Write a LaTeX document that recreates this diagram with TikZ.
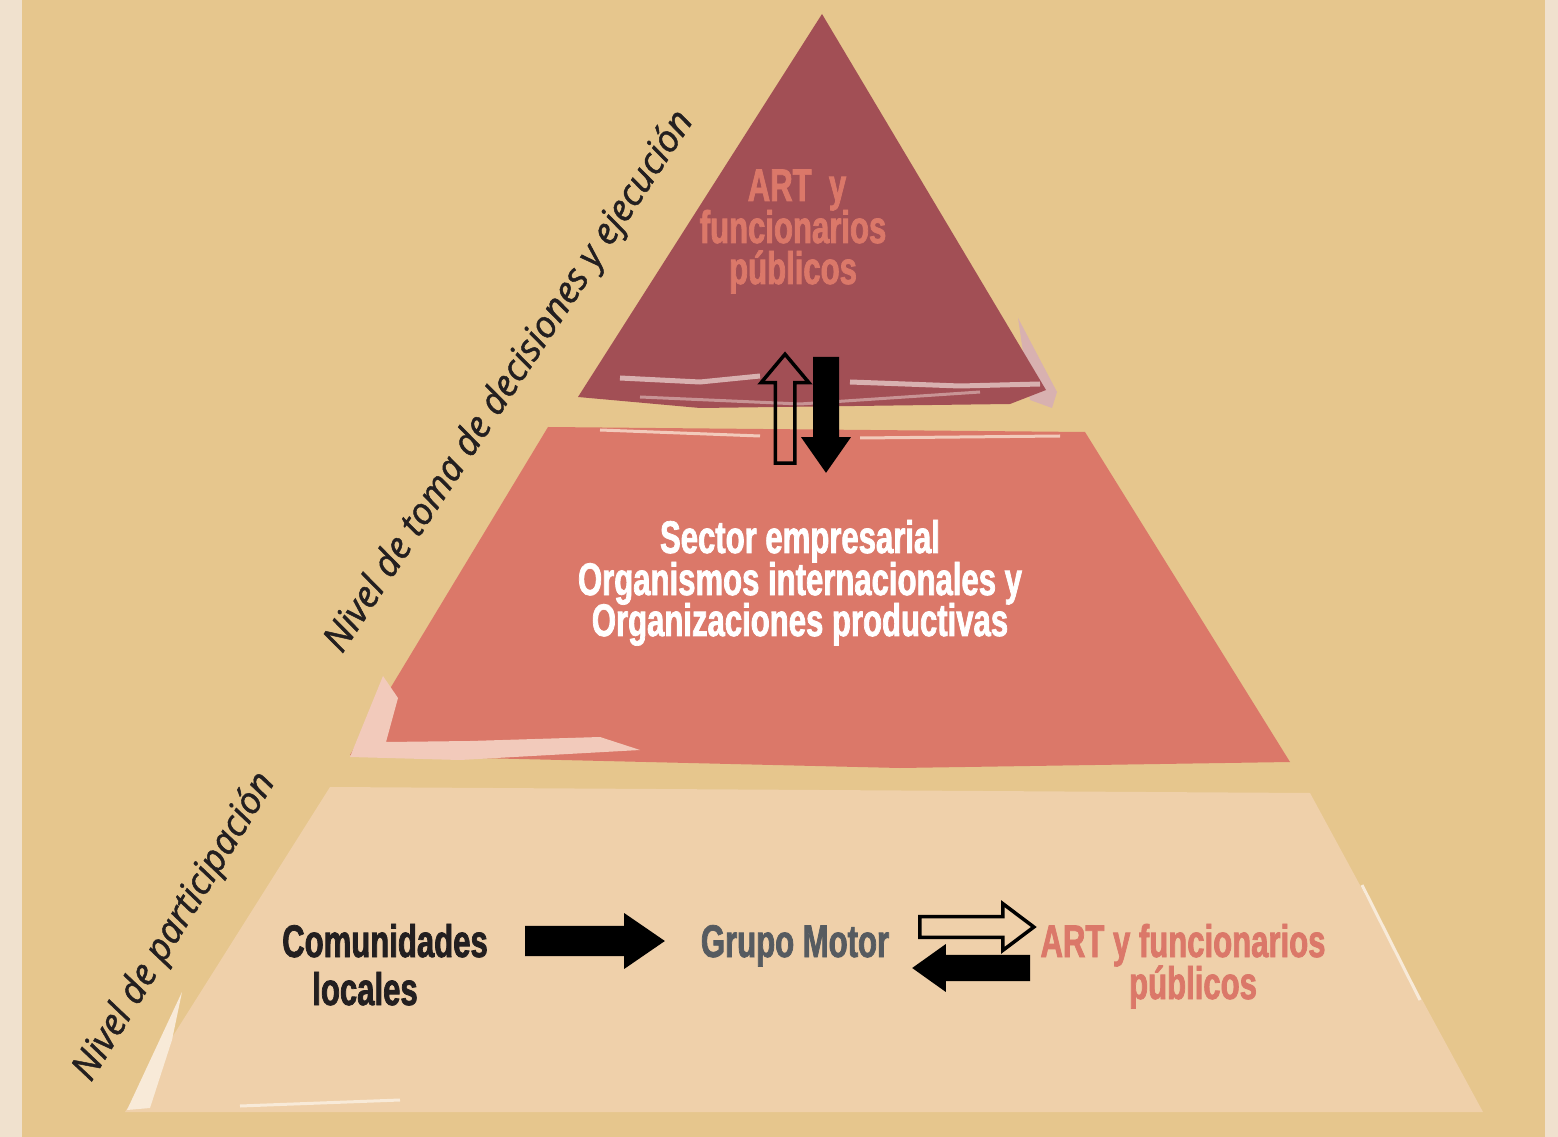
\documentclass[tikz,border=0pt]{standalone}
\usepackage{fontspec}
\usetikzlibrary{shapes.arrows}
\newfontfamily\boxfont[FakeStretch=0.68, BoldFeatures={FakeBold=1.6}]{Liberation Sans}
\newfontfamily\sidefont[ItalicFeatures={FakeBold=1.3}]{Open Sans}
\definecolor{paper}{HTML}{E6C68D}
\definecolor{paperedge}{HTML}{F0E1CE}
\definecolor{wine}{HTML}{A24F55}
\definecolor{salmon}{HTML}{DB7869}
\definecolor{sand}{HTML}{EFD0AA}
\definecolor{rose}{HTML}{D8B1B0}
\definecolor{blush}{HTML}{F2CABB}
\definecolor{cream}{HTML}{F8EAD8}
\definecolor{slate}{HTML}{565B60}
\definecolor{ink}{HTML}{231F20}
\tikzstyle{lbl}=[font=\boxfont\bfseries\fontsize{13}{13}\selectfont, inner sep=0pt, anchor=base]
\tikzstyle{side}=[font=\sidefont\itshape\fontsize{10.5}{12}\selectfont, text=ink, inner sep=0pt]
\tikzstyle{openarrow}=[single arrow, draw=black, line width=0.035cm, inner xsep=0pt, anchor=tail]
\tikzstyle{blackarrow}=[single arrow, draw=black, fill=black, line width=0.02cm, inner xsep=0pt, anchor=tail]
\begin{document}
\begin{tikzpicture}[x=0.01cm, y=-0.01cm]
	\useasboundingbox (0,0) rectangle (1558,1137);
	\fill[paper] (0,0) rectangle (1558,1137);
	\fill[paperedge] (0,0) rectangle (22,1137);
	\fill[paperedge] (1545,0) rectangle (1558,1137);
	% top
	\fill[rose] (1018,318) -- (1057,392) -- (1052,408) -- (1030,400) -- cycle;
	\fill[wine] (822,14) -- (1046,390) -- (1010,404) -- (700,408) -- (578,397) -- cycle;
	\draw[rose, line width=0.05cm] (620,378) -- (700,382) -- (760,376);
	\draw[rose, line width=0.05cm] (850,382) -- (960,386) -- (1040,384);
	\draw[rose!70!wine, line width=0.03cm] (640,397) -- (800,404) -- (980,392);
	% middle
	\fill[salmon] (548,427) -- (1085,432) -- (1290,762) -- (900,768) -- (350,755) -- cycle;
	\fill[blush] (350,757) -- (383,676) -- (398,698) -- (386,742) -- (470,741) -- (600,737) -- (640,750) -- (460,760) -- cycle;
	\draw[blush, line width=0.03cm] (600,430) -- (760,436);
	\draw[blush, line width=0.03cm] (860,438) -- (1060,436);
	% bottom
	\fill[sand] (330,787) -- (1310,793) -- (1483,1112) -- (125,1112) -- cycle;
	\fill[cream] (127,1110) -- (182,992) -- (172,1040) -- (150,1108) -- cycle;
	\draw[cream, line width=0.03cm] (240,1106) -- (400,1100);
	\draw[cream, line width=0.03cm] (1362,885) -- (1420,1000);
	% texts
	\node[lbl, text=salmon] (artA) at (797,201) {ART\ \ y};
	\node[lbl, text=salmon] (artB) at (793,243) {funcionarios};
	\node[lbl, text=salmon] (artC) at (793,284) {públicos};
	\node[lbl, text=white] (secA) at (800,553) {Sector empresarial};
	\node[lbl, text=white] (secB) at (800,595) {Organismos internacionales y};
	\node[lbl, text=white] (secC) at (800,636) {Organizaciones productivas};
	\node[lbl, text=ink] (comA) at (385,957) {Comunidades};
	\node[lbl, text=ink] (comB) at (365,1005) {locales};
	\node[lbl, text=slate] (motor) at (795,957) {Grupo Motor};
	\node[lbl, text=salmon] (funA) at (1183,957) {ART y funcionarios};
	\node[lbl, text=salmon] (funB) at (1193,999) {públicos};
	\node[side, rotate=56.6] (decide) at (510,382) {Nivel de toma de decisiones y ejecución};
	\node[side, rotate=58.5] (partic) at (175,927) {Nivel de participación};
	% arrows
	\node[openarrow, rotate=90, inner ysep=0.08cm, minimum height=1.09cm, single arrow head extend=0.14cm, single arrow tip angle=80] (up) at (785,465) {};
	\node[blackarrow, rotate=-90, inner ysep=0.11cm, minimum height=1.13cm, single arrow head extend=0.11cm, single arrow tip angle=70] (down) at (826,357) {};
	\node[blackarrow, inner ysep=0.13cm, minimum height=1.37cm, single arrow head extend=0.12cm, single arrow tip angle=69] (toMotor) at (525,941) {};
	\node[openarrow, inner ysep=0.085cm, minimum height=1.14cm, single arrow head extend=0.13cm, single arrow tip angle=74] (toArt) at (918,927) {};
	\node[blackarrow, rotate=180, inner ysep=0.11cm, minimum height=1.15cm, single arrow head extend=0.10cm, single arrow tip angle=71] (toGrupo) at (1030,968) {};
\end{tikzpicture}
\end{document}
